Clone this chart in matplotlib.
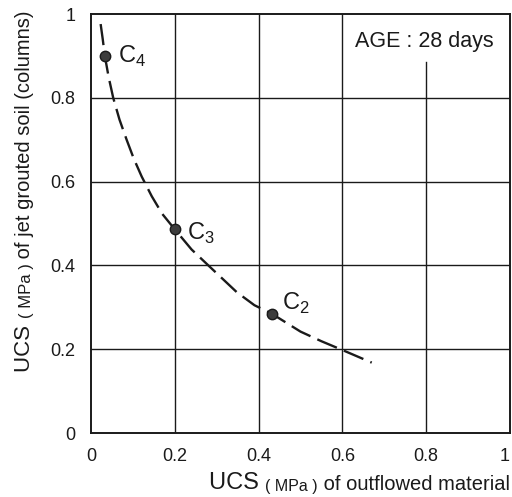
import numpy as np
import matplotlib
matplotlib.use("Agg")
import matplotlib.pyplot as plt

plt.rcParams['font.family'] = ['Liberation Sans', 'DejaVu Sans']
plt.rcParams['mathtext.fontset'] = 'custom'
plt.rcParams['mathtext.rm'] = 'Liberation Sans'

#--data
pointNames = ['C$_\\mathregular{4}$', 'C$_\\mathregular{3}$', 'C$_\\mathregular{2}$']
pointX = [0.033, 0.200, 0.431]
pointY = [0.900, 0.486, 0.285]

#--dashed trend curve
curveX = [0.023, 0.028, 0.033, 0.042, 0.053, 0.068, 0.085, 0.102, 0.121, 0.145, 0.170,
          0.200, 0.240, 0.280, 0.348, 0.390, 0.431, 0.500, 0.550, 0.600, 0.670]
curveY = [0.976, 0.940, 0.900, 0.850, 0.800, 0.748, 0.700, 0.655, 0.612, 0.565, 0.523,
          0.486, 0.438, 0.400, 0.336, 0.305, 0.285, 0.242, 0.219, 0.198, 0.168]

tickVals = [0, 0.2, 0.4, 0.6, 0.8, 1]
tickLabels = ['0', '0.2', '0.4', '0.6', '0.8', '1']

ageText = 'AGE : 28 days'

#--label offsets (points) for C labels
labelOffsets = [(9.4, -5.0), (8.6, -7.2), (7.2, 2.9)]

ink = '#1a1a1a'

fig = plt.figure(figsize=(5.12, 4.97), dpi=100)
ax = fig.add_axes([91/512, 1-433/497, 419/512, 419/497])
ax.set_xlim(0, 1)
ax.set_ylim(0, 1)

#--grid (0.8 vertical line stops under the AGE text)
for v in tickVals[1:-1]:
    ax.axhline(v, color=ink, lw=1.0, zorder=1)
for v in tickVals[1:-2]:
    ax.axvline(v, color=ink, lw=1.0, zorder=1)
ax.axvline(0.8, ymax=0.885, color=ink, lw=1.0, zorder=1)

for s in ax.spines.values():
    s.set_linewidth(1.4)
    s.set_color(ink)

ax.set_xticks(tickVals, labels=tickLabels)
ax.set_yticks(tickVals, labels=tickLabels)
ax.tick_params(axis='both', length=0, labelsize=13, colors=ink)
ax.tick_params(axis='x', pad=11)
ax.tick_params(axis='y', pad=11)
ax.get_xticklabels()[-1].set_ha('right')

#--curve and points
ax.plot(curveX, curveY, color=ink, lw=1.7, linestyle=(0, (9, 3.2)), zorder=2)
ax.plot(pointX, pointY, 'o', ms=7.5, mfc='#3c3c3c', mec=ink, mew=1.0, zorder=3)
for name, x, y, off in zip(pointNames, pointX, pointY, labelOffsets):
    ax.annotate(name, (x, y), xytext=off, textcoords='offset points',
                fontsize=17, color=ink, va='baseline', ha='left')

ax.text(0.63, 0.935, ageText, fontsize=15.5, color=ink, va='center', ha='left')

#--x label, built right to left with mixed sizes
t1 = fig.text(510/512, 7/497, ' of outflowed material', fontsize=14.5, color=ink,
              ha='right', va='baseline')
t2 = ax.annotate('( MPa )', xy=(0, 0), xycoords=t1, fontsize=11.5, color=ink,
                 ha='right', va='bottom')
t3 = ax.annotate('UCS ', xy=(0, 0), xycoords=t2, fontsize=17, color=ink,
                 ha='right', va='bottom')

#--y label, built top to bottom with mixed sizes
y1 = fig.text(25/512, 1-10/497, ' of jet grouted soil (columns)', fontsize=14.5,
              color=ink, rotation=90, ha='center', va='top')
y2 = ax.annotate('( MPa )', xy=(1, 0), xycoords=y1, fontsize=12, color=ink,
                 rotation=90, ha='right', va='top')
y3 = ax.annotate('UCS ', xy=(1, 0), xycoords=y2, fontsize=16, color=ink,
                 rotation=90, ha='right', va='top')

plt.savefig('out.png', dpi=100)
